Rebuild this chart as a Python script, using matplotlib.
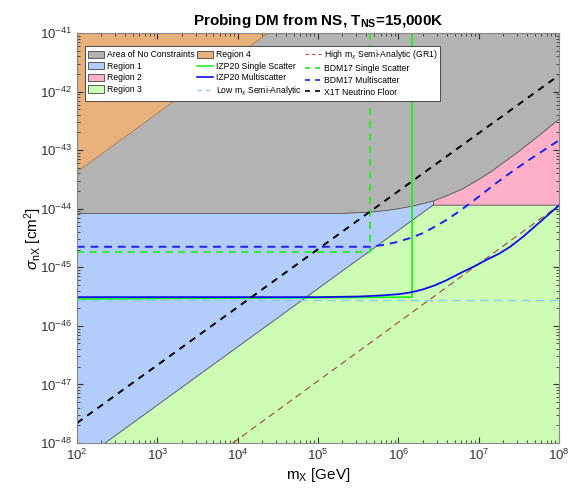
import numpy as np
import matplotlib
matplotlib.use("Agg")
import matplotlib.pyplot as plt
from matplotlib.patches import Patch
from matplotlib.lines import Line2D
from matplotlib.ticker import NullFormatter

plt.rcParams['font.family'] = ['Liberation Sans', 'DejaVu Sans']
plt.rcParams['mathtext.fontset'] = 'custom'
plt.rcParams['mathtext.rm'] = 'Liberation Sans'
plt.rcParams['mathtext.it'] = 'Liberation Sans:italic'
plt.rcParams['mathtext.bf'] = 'Liberation Sans:bold'

# values, in log10(m / GeV) and log10(sigma / cm^2)
orange_edge_m = [2.0, 4.38]
orange_edge_s = [-43.37, -41.0]

gray_edge_m = [2.0, 5.3, 5.65, 5.85, 6.0, 6.2, 6.43, 6.6, 6.8, 7.0, 7.15, 7.27, 7.48, 7.75, 8.0]
gray_edge_s = [-44.08, -44.08, -44.06, -44.03, -44.0, -43.95, -43.87, -43.78, -43.66, -43.5, -43.37, -43.25, -43.04, -42.75, -42.47]

green_edge_m = [2.35, 6.43, 8.0]
green_edge_s = [-48.0, -43.94, -43.94]

x1t_m = [2.0, 8.0]
x1t_s = [-47.66, -41.72]

high_m = [3.94, 8.0]
high_s = [-48.0, -43.94]

low_m = [2.0, 8.0]
low_s = [-45.56, -45.56]

izp_ss_m = [2.0, 6.17, 6.17]
izp_ss_s = [-45.54, -45.51, -40.0]

izp_ms_m = [2.0, 5.0, 5.5, 5.8, 6.0, 6.15, 6.3, 6.45, 6.6, 6.77, 6.95, 7.1, 7.25, 7.39, 7.55, 7.7, 7.85, 8.0]
izp_ms_s = [-45.51, -45.51, -45.5, -45.48, -45.46, -45.43, -45.38, -45.31, -45.22, -45.1, -44.98, -44.87, -44.77, -44.65, -44.48, -44.3, -44.12, -43.94]

bdm_ss_m = [2.0, 5.65, 5.65]
bdm_ss_s = [-44.74, -44.74, -40.0]

bdm_ms_m = [2.0, 5.65, 5.8, 5.95, 6.15, 6.3, 6.45, 6.6, 6.74, 6.9, 7.05, 7.2, 7.4, 7.6, 7.8, 8.0]
bdm_ms_s = [-44.65, -44.65, -44.62, -44.58, -44.5, -44.42, -44.31, -44.19, -44.06, -43.9, -43.74, -43.58, -43.38, -43.19, -43.01, -42.83]

c_gray = '#b3b3b3'
c_orange = '#e8b07b'
c_blue = '#b3cdfa'
c_pink = '#fdb0c8'
c_green = '#cdfdb5'
c_edge = '#555555'


def p(v):
    return 10.0 ** np.asarray(v, dtype=float)


fig = plt.figure(figsize=(5.7, 4.92), dpi=100)
ax = fig.add_axes([0.135, 0.0996, 0.846, 0.8334])
ax.set_xscale('log')
ax.set_yscale('log')
ax.set_xlim(1e2, 1e8)
ax.set_ylim(1e-48, 1e-41)
ax.set_facecolor(c_gray)
ax.xaxis.set_minor_formatter(NullFormatter())
ax.yaxis.set_minor_formatter(NullFormatter())

# regions
ax.fill_between(p(orange_edge_m + [8.0]), p(orange_edge_s + [-41.0]), 1e-40,
                color=c_orange, lw=0)
gm = np.array(gray_edge_m)
gs = np.array(gray_edge_s)
left = gm <= 6.43
right = gm >= 6.43
ax.fill_between(p(gm[left]), 1e-49, p(gs[left]), color=c_blue, lw=0)
ax.fill_between(p(gm[right]), 1e-49, p(gs[right]), color=c_pink, lw=0)
ax.fill_between(p(green_edge_m), 1e-49, p(green_edge_s), color=c_green, lw=0)

ax.plot(p(orange_edge_m), p(orange_edge_s), color='#8a7a6a', lw=0.5)
ax.plot(p(gray_edge_m), p(gray_edge_s), color=c_edge, lw=0.6)
ax.plot(p(green_edge_m), p(green_edge_s), color=c_edge, lw=0.6)
ax.plot(p([6.43, 6.43]), p([-43.94, -43.87]), color=c_edge, lw=0.6)

# curves
ax.plot(p(low_m), p(low_s), color='#87cdee', lw=1.0, ls=(0, (6, 4)))
ax.plot(p(high_m), p(high_s), color='#a0453a', lw=0.8, ls=(0, (6, 4)))
ax.plot(p(izp_ss_m), p(izp_ss_s), color='#22ee22', lw=1.3)
ax.plot(p(izp_ms_m), p(izp_ms_s), color='#0a10e8', lw=1.3)
ax.plot(p(bdm_ss_m), p(bdm_ss_s), color='#22ee22', lw=1.3, ls=(0, (4, 3)))
ax.plot(p(bdm_ms_m), p(bdm_ms_s), color='#1a22ee', lw=1.4, ls=(0, (4, 3)))
ax.plot(p(x1t_m), p(x1t_s), color='black', lw=1.4, ls=(0, (3.5, 3)))

ax.tick_params(which='both', direction='in', top=True, right=True,
               colors='#333333', labelsize=9.5)
ax.tick_params(which='major', length=4)
ax.tick_params(which='minor', length=2)
for s in ax.spines.values():
    s.set_color('#888888')
    s.set_linewidth(0.8)

ax.set_title(r'Probing DM from NS, T$_{\mathbf{NS}}$=15,000K',
             fontsize=11, fontweight='bold', pad=6)
ax.set_xlabel(r'm$_{\rm X}$ [GeV]', fontsize=11, labelpad=2)
ax.set_ylabel(r'$\sigma_{\rm nX}$ [cm$^2$]', fontsize=11, labelpad=-3)

handles = [
    Patch(facecolor=c_gray, edgecolor='#444444', lw=0.6, label='Area of No Constraints'),
    Patch(facecolor=c_blue, edgecolor='#444444', lw=0.6, label='Region 1'),
    Patch(facecolor=c_pink, edgecolor='#444444', lw=0.6, label='Region 2'),
    Patch(facecolor=c_green, edgecolor='#444444', lw=0.6, label='Region 3'),
    Patch(facecolor=c_orange, edgecolor='#444444', lw=0.6, label='Region 4'),
    Line2D([], [], color='#22ee22', lw=1.2, label='IZP20 Single Scatter'),
    Line2D([], [], color='#0a10e8', lw=1.2, label='IZP20 Multiscatter'),
    Line2D([], [], color='#87cdee', lw=1.0, ls=(0, (3, 3)), label=r'Low m$_\chi$ Semi-Analytic'),
    Line2D([], [], color='#d03a40', lw=0.8, ls=(0, (3, 3)), label=r'High m$_\chi$ Semi-Analytic (GR1)'),
    Line2D([], [], color='#22ee22', lw=1.2, ls=(0, (3, 3)), label='BDM17 Single Scatter'),
    Line2D([], [], color='#1a22ee', lw=1.2, ls=(0, (3, 3)), label='BDM17 Multiscatter'),
    Line2D([], [], color='black', lw=1.2, ls=(0, (3, 3)), label='X1T Neutrino Floor'),
]
leg = ax.legend(handles=handles, ncol=3, loc='upper left',
                bbox_to_anchor=(0.0166, 0.969), borderaxespad=0,
                fontsize=6.2, frameon=True, fancybox=False, framealpha=1,
                handlelength=1.9, handleheight=0.9, handletextpad=0.3,
                columnspacing=0.3, labelspacing=0.3, borderpad=0.35)
leg.get_frame().set_edgecolor('#333333')
leg.get_frame().set_linewidth(0.6)

fig.savefig('out.png', dpi=100)
